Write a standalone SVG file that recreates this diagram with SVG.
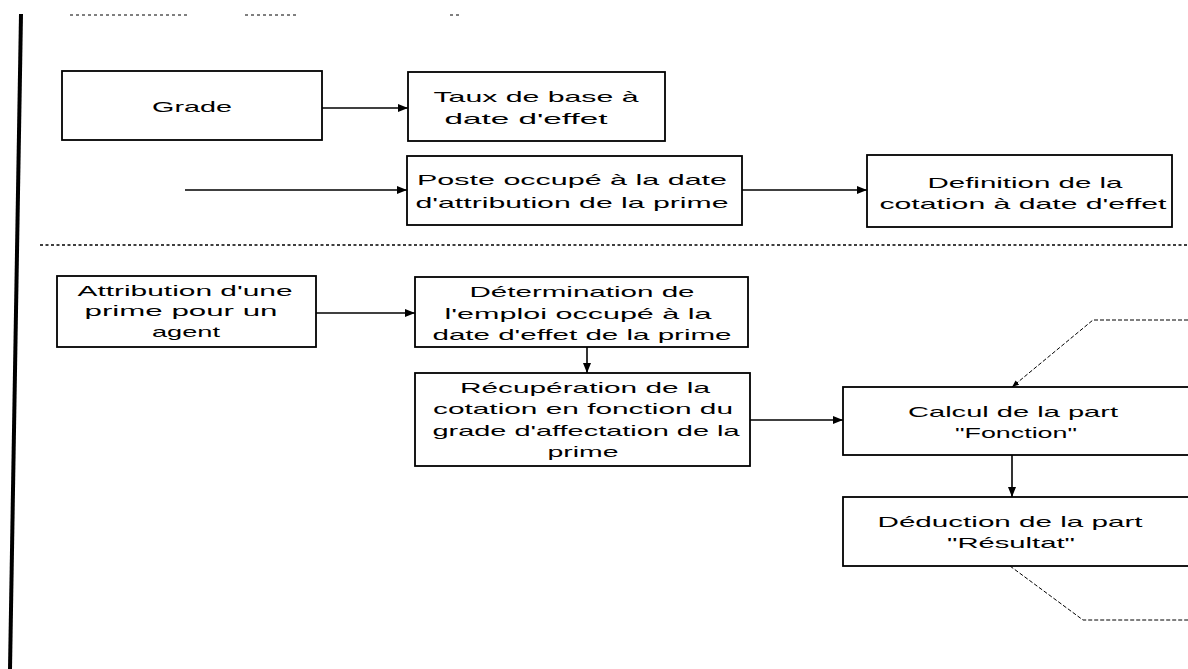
<svg xmlns="http://www.w3.org/2000/svg" width="1188" height="669" viewBox="0 0 1188 669">
<style>
.box{fill:#fff;stroke:#000;stroke-width:1.8}
.t{font-family:"Liberation Sans",Arial,sans-serif;font-size:15px;fill:#000;text-anchor:middle}
.c{fill:none;stroke:#000;stroke-width:1.6}
.d{fill:none;stroke:#000;stroke-width:1;stroke-dasharray:4 2}
</style>
<defs>
<marker id="ah" viewBox="0 0 10 8" refX="10" refY="4" markerWidth="10" markerHeight="8" markerUnits="userSpaceOnUse" orient="auto">
<path d="M0,0 L10,4 L0,8 z" fill="#000"/>
</marker>
<marker id="ahs" viewBox="0 0 10 8" refX="10" refY="4" markerWidth="7" markerHeight="6" markerUnits="userSpaceOnUse" orient="auto">
<path d="M0,0 L10,4 L0,8 z" fill="#000"/>
</marker>
</defs>
<rect width="1188" height="669" fill="#fff"/>
<line x1="21" y1="14" x2="10" y2="669" stroke="#000" stroke-width="4"/>
<g id="scan-marks" stroke="#000" stroke-width="1" stroke-dasharray="3 3">
<line x1="70" y1="15" x2="190" y2="15"/>
<line x1="245" y1="15" x2="298" y2="15"/>
<line x1="450" y1="15" x2="460" y2="15"/>
</g>
<line x1="40" y1="245" x2="1188" y2="245" stroke="#000" stroke-width="1.6" stroke-dasharray="3 2.5"/>
<g id="connectors">
<line class="c" x1="322" y1="108" x2="408" y2="108" marker-end="url(#ah)"/>
<line class="c" x1="185" y1="190" x2="407" y2="190" marker-end="url(#ah)"/>
<line class="c" x1="742" y1="190" x2="867" y2="190" marker-end="url(#ah)"/>
<line class="c" x1="316" y1="313" x2="415" y2="313" marker-end="url(#ah)"/>
<line class="c" x1="587" y1="347" x2="587" y2="373" marker-end="url(#ah)"/>
<line class="c" x1="750" y1="420" x2="843" y2="420" marker-end="url(#ah)"/>
<line class="c" x1="1012" y1="455" x2="1012" y2="497" marker-end="url(#ah)"/>
<polyline class="d" points="1188,320 1093,320 1012,387" marker-end="url(#ahs)"/>
<polyline class="d" points="1010,566 1083,620 1188,620"/>
</g>
<g id="grade">
<rect class="box" x="62" y="71" width="260" height="69"/>
<text class="t" x="192" y="112" textLength="80" lengthAdjust="spacingAndGlyphs">Grade</text>
</g>
<g id="taux">
<rect class="box" x="408" y="72" width="257" height="69"/>
<text class="t" x="536" y="102" textLength="205" lengthAdjust="spacingAndGlyphs">Taux de base à</text>
<text class="t" x="526" y="124" textLength="163" lengthAdjust="spacingAndGlyphs">date d'effet</text>
</g>
<g id="poste">
<rect class="box" x="407" y="156" width="335" height="69"/>
<text class="t" x="572" y="185" textLength="310" lengthAdjust="spacingAndGlyphs">Poste occupé à la date</text>
<text class="t" x="572" y="208" textLength="313" lengthAdjust="spacingAndGlyphs">d'attribution de la prime</text>
</g>
<g id="definition">
<rect class="box" x="867" y="155" width="305" height="72"/>
<text class="t" x="1025" y="188" textLength="195" lengthAdjust="spacingAndGlyphs">Definition de la</text>
<text class="t" x="1023" y="209" textLength="287" lengthAdjust="spacingAndGlyphs">cotation à date d'effet</text>
</g>
<g id="attribution">
<rect class="box" x="57" y="276" width="259" height="71"/>
<text class="t" x="185" y="296" textLength="215" lengthAdjust="spacingAndGlyphs">Attribution d'une</text>
<text class="t" x="181" y="316" textLength="193" lengthAdjust="spacingAndGlyphs">prime pour un</text>
<text class="t" x="186" y="337" textLength="68" lengthAdjust="spacingAndGlyphs">agent</text>
</g>
<g id="determination">
<rect class="box" x="415" y="277" width="333" height="70"/>
<text class="t" x="582" y="297" textLength="225" lengthAdjust="spacingAndGlyphs">Détermination de</text>
<text class="t" x="578" y="319" textLength="267" lengthAdjust="spacingAndGlyphs">l'emploi occupé à la</text>
<text class="t" x="582" y="340" textLength="299" lengthAdjust="spacingAndGlyphs">date d'effet de la prime</text>
</g>
<g id="recuperation">
<rect class="box" x="415" y="373" width="335" height="93"/>
<text class="t" x="585" y="393" textLength="250" lengthAdjust="spacingAndGlyphs">Récupération de la</text>
<text class="t" x="583" y="414" textLength="300" lengthAdjust="spacingAndGlyphs">cotation en fonction du</text>
<text class="t" x="586" y="436" textLength="307" lengthAdjust="spacingAndGlyphs">grade d'affectation de la</text>
<text class="t" x="583" y="457" textLength="71" lengthAdjust="spacingAndGlyphs">prime</text>
</g>
<g id="calcul">
<rect class="box" x="843" y="387" width="360" height="68"/>
<text class="t" x="1013" y="417" textLength="210" lengthAdjust="spacingAndGlyphs">Calcul de la part</text>
<text class="t" x="1016" y="438" textLength="122" lengthAdjust="spacingAndGlyphs">"Fonction"</text>
</g>
<g id="deduction">
<rect class="box" x="843" y="497" width="360" height="69"/>
<text class="t" x="1010" y="527" textLength="265" lengthAdjust="spacingAndGlyphs">Déduction de la part</text>
<text class="t" x="1011" y="548" textLength="128" lengthAdjust="spacingAndGlyphs">"Résultat"</text>
</g>
</svg>
